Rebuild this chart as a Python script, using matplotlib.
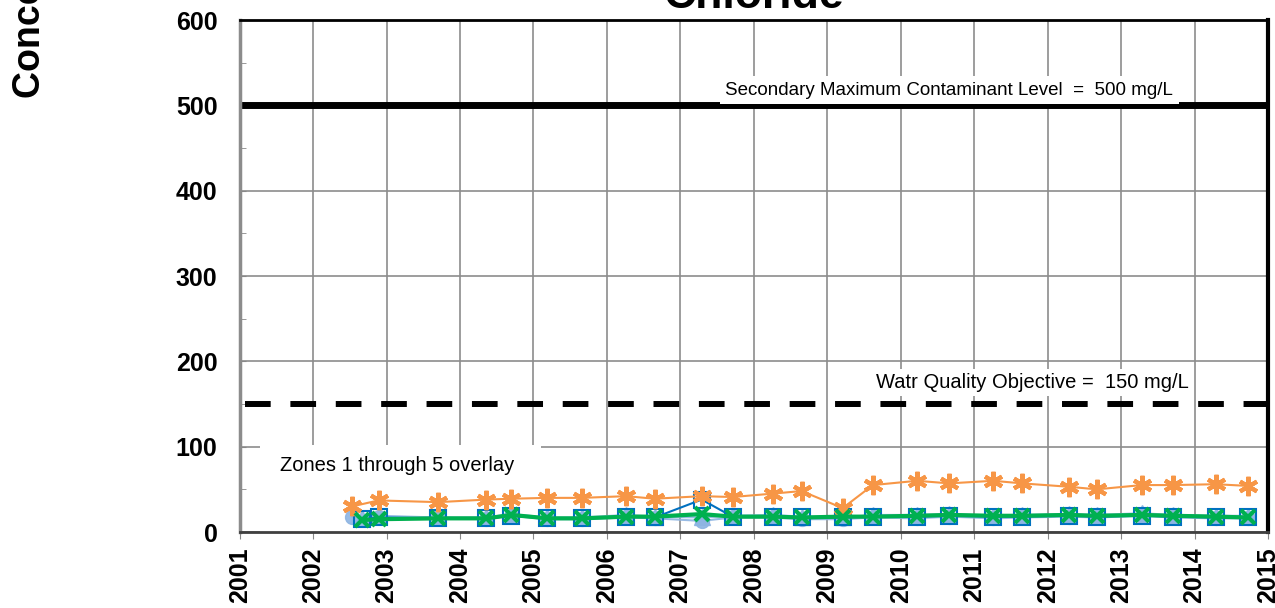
import matplotlib.pyplot as plt
from matplotlib.patches import Rectangle
from matplotlib.ticker import MultipleLocator

plt.rcParams["font.family"] = ["Liberation Sans", "DejaVu Sans"]

# sampling dates (decimal years)
dates_a = [2002.53, 2002.89, 2003.70, 2004.36, 2004.70, 2005.19, 2005.66, 2006.26, 2006.65,
           2007.29, 2007.71, 2008.26, 2008.65, 2009.21, 2009.62, 2010.22, 2010.66, 2011.26,
           2011.65, 2012.29, 2012.67, 2013.28, 2013.71, 2014.29, 2014.73]
dates_b = [2002.67] + dates_a[1:]

# chloride concentrations, mg/L
zone1 = [18, 18, 17, 15, 19, 15, 15, 17, 16, 13, 17, 17, 15, 15, 17, 16, 18, 16, 17, 18, 17, 19, 17, 16, 16]
zone2 = [15, 17, 16, 16, 19, 16, 16, 18, 17, 38, 18, 18, 17, 17, 18, 18, 19, 18, 18, 19, 18, 19, 18, 17, 17]
zone3 = [16, 19, 17, 17, 21, 17, 17, 20, 18, 17, 19, 20, 18, 17, 20, 20, 21, 19, 20, 21, 20, 22, 20, 19, 19]
zone4 = [30, 37, 35, 38, 39, 40, 40, 42, 39, 42, 41, 45, 48, 28, 55, 60, 57, 60, 57, 53, 50, 55, 55, 56, 54]
zone5 = [14, 15, 16, 16, 20, 16, 16, 18, 18, 21, 18, 18, 17, 18, 18, 19, 20, 19, 19, 20, 19, 20, 19, 18, 17]

smcl = 500
wqo = 150
years = list(range(2001, 2016))

fig = plt.figure(figsize=(12.75, 6.08), dpi=100)
ax = fig.add_axes([0.188, 0.125, 0.8065, 0.842])

ax.set_xlim(2001, 2015)
ax.set_ylim(0, 600)
ax.set_xticks(years)
ax.set_xticklabels([str(y) for y in years], rotation=90, fontsize=18, fontweight="bold")
ax.yaxis.set_major_locator(MultipleLocator(100))
ax.yaxis.set_minor_locator(MultipleLocator(50))
for lbl in ax.get_yticklabels():
    lbl.set_fontsize(18)
    lbl.set_fontweight("bold")
ax.tick_params(axis="y", which="major", direction="in", length=4, pad=16, color="#888888")
ax.tick_params(axis="y", which="minor", direction="in", length=4, color="#888888")
ax.tick_params(axis="x", direction="out", length=5, pad=6, color="#888888")
ax.grid(True, which="major", color="#8c8c8c", linewidth=1.2, zorder=0)
ax.set_axisbelow(True)

ax.spines["left"].set_color("#8c8c8c")
ax.spines["left"].set_linewidth(2.5)
ax.spines["bottom"].set_color("#404040")
ax.spines["bottom"].set_linewidth(2)
ax.spines["top"].set_linewidth(2)
ax.spines["right"].set_linewidth(3)

# white panel behind the overlay note
ax.add_patch(Rectangle((2001.27, 0), 3.83, 102, facecolor="white", edgecolor="none", zorder=1))

ax.axhline(smcl, xmin=0.005, color="black", linewidth=5, zorder=2)
ax.axhline(wqo, xmin=0.005, color="black", linewidth=4.3, dashes=(4.3, 3.3),
           dash_capstyle="butt", zorder=2)

ax.text(2007.61, 518, "Secondary Maximum Contaminant Level  =  500 mg/L", fontsize=13.5,
        va="center", ha="left", zorder=3,
        bbox=dict(facecolor="white", edgecolor="none", pad=4))
ax.text(2009.66, 175, "Watr Quality Objective =  150 mg/L", fontsize=14.5,
        va="center", ha="left", zorder=3,
        bbox=dict(facecolor="white", edgecolor="none", pad=3))
ax.text(2001.55, 78.5, "Zones 1 through 5 overlay", fontsize=14.5, va="center", ha="left", zorder=3)

ax.plot(dates_a, zone1, color="#8db4e2", linewidth=1.5, marker="o", markersize=10,
        markeredgecolor="#8db4e2", alpha=0.9, zorder=4)
ax.plot(dates_b, zone3, color="#8db4e2", linewidth=1.5, marker="^", markersize=11,
        markeredgecolor="#8db4e2", alpha=0.9, zorder=4)
ax.plot(dates_b, zone2, color="#0070c0", linewidth=1.5, marker="s", markersize=12,
        markerfacecolor="none", markeredgewidth=1.5, zorder=5)
ax.plot(dates_a, zone4, color="#f79646", linewidth=1.5, marker=(6, 2, 0), markersize=14,
        markeredgewidth=3, zorder=5)
ax.plot(dates_b, zone5, color="#00b050", linewidth=3, marker="x", markersize=10,
        markeredgewidth=3, zorder=6)

fig.text(0.591, 0.987, "Chloride", fontsize=32, fontweight="bold", ha="center", va="baseline")
fig.text(0.0235, 0.839, "Concentration (mg/L)", fontsize=27, fontweight="bold",
         rotation=90, ha="center", va="bottom")

fig.savefig("out.png", dpi=100)
